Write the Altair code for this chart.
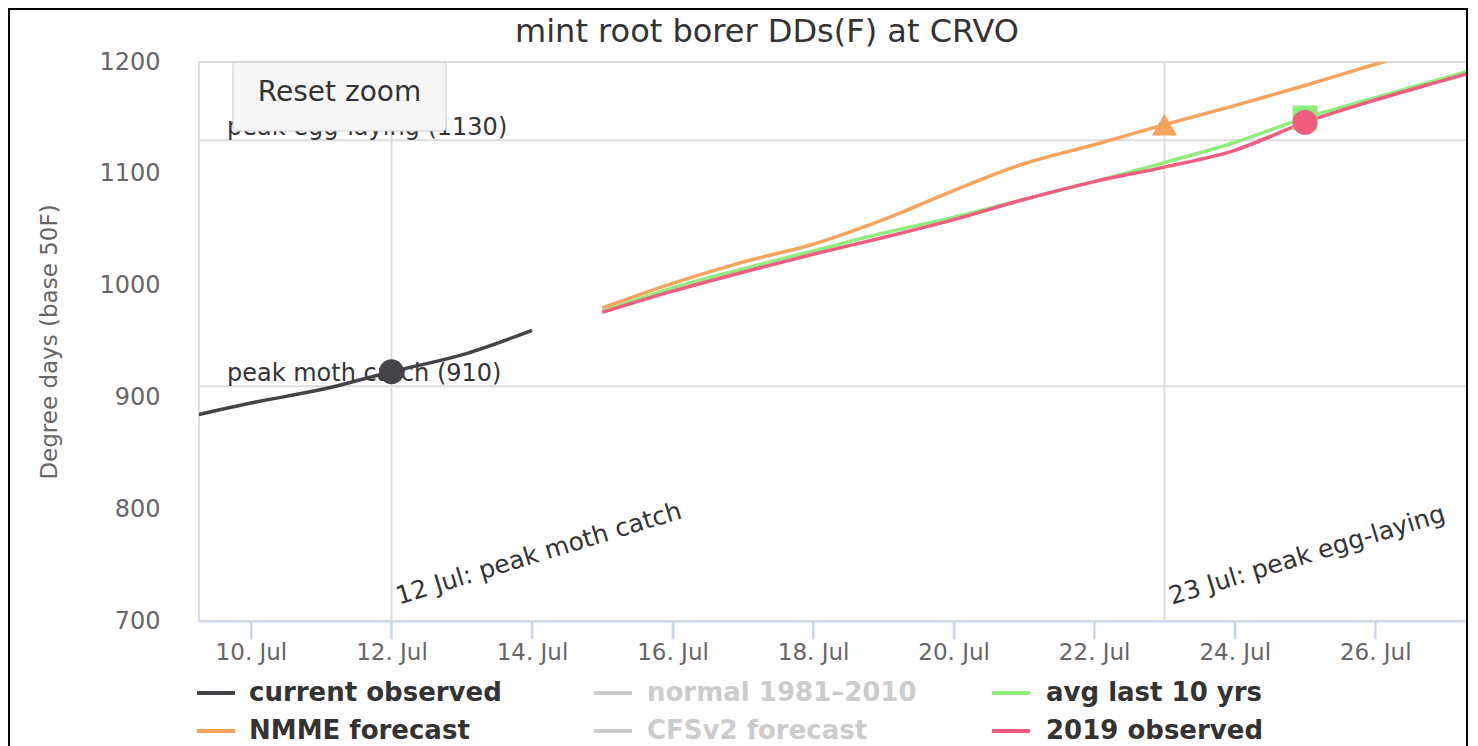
import altair as alt
import pandas as pd

# ---------------- data ----------------
TITLE = "mint root borer DDs(F) at CRVO"
Y_TITLE = "Degree days (base 50F)"

obs_dates = ["2020-07-09", "2020-07-10", "2020-07-11", "2020-07-12", "2020-07-13", "2020-07-14"]
obs_values = [881, 895, 907, 923, 938, 960]

fc_dates = ["2020-07-15", "2020-07-16", "2020-07-17", "2020-07-18", "2020-07-19", "2020-07-20",
            "2020-07-21", "2020-07-22", "2020-07-23", "2020-07-24", "2020-07-25", "2020-07-26",
            "2020-07-27", "2020-07-28"]
nmme_values = [980, 1002, 1021, 1037, 1059, 1085, 1109, 1126, 1144, 1161, 1179, 1198, 1216, 1234]
avg10_values = [977, 998, 1015, 1031, 1047, 1061, 1077, 1093, 1110, 1128, 1150, 1168, 1186, 1204]
y2019_values = [976, 995, 1012, 1028, 1043, 1059, 1077, 1093, 1106, 1121, 1146, 1166, 1184, 1202]

series_names = ["current observed", "normal 1981\u20132010", "avg last 10 yrs",
                "NMME forecast", "CFSv2 forecast", "2019 observed"]
series_colors = ["#434348", "#cccccc", "#90ed7d", "#f7a35c", "#cccccc", "#f15c80"]
series_visible = [True, False, True, True, False, True]

marker_series = ["current observed", "NMME forecast", "avg last 10 yrs", "2019 observed"]
marker_dates = ["2020-07-12", "2020-07-23", "2020-07-25", "2020-07-25"]
marker_values = [923, 1144, 1150, 1146]

hline_values = [910, 1130]
hline_labels = ["peak moth catch (910)", "peak egg-laying (1130)"]
vline_dates = ["2020-07-12", "2020-07-23"]
vline_labels = ["12 Jul: peak moth catch", "23 Jul: peak egg-laying"]

y_ticks = [700, 800, 900, 1000, 1100, 1200]
x_tick_dates = ["2020-07-10", "2020-07-12", "2020-07-14", "2020-07-16", "2020-07-18",
                "2020-07-20", "2020-07-22", "2020-07-24", "2020-07-26"]

# ---------------- styles / layout ----------------
FONT = "DejaVu Sans"
W, H = 1268, 559
TICK_LEN = 18
marker_shapes = {"current observed": "circle", "NMME forecast": "triangle-up",
                 "avg last 10 yrs": "square", "2019 observed": "circle"}

color_scale = alt.Scale(domain=series_names, range=series_colors)


def utc(s):
    y, m, d = (int(v) for v in s.split("-"))
    return alt.DateTime(year=y, month=m, date=d, utc=True)


x_scale = alt.Scale(
    type="utc",
    domain=[alt.DateTime(year=2020, month=7, date=9, hours=6, minutes=16, utc=True),
            alt.DateTime(year=2020, month=7, date=27, hours=7, minutes=20, utc=True)])
x_axis = alt.Axis(
    values=[utc(s) for s in x_tick_dates],
    labelExpr="utcFormat(datum.value, '%-d. %b')", title=None)
X = alt.X("date:T", scale=x_scale, axis=x_axis)

y_scale = alt.Scale(domain=[700, 1200], nice=False, zero=False)
y_axis = alt.Axis(values=y_ticks, format="d", title=Y_TITLE)
Y = alt.Y("value:Q", scale=y_scale, axis=y_axis)

layers = []

# x-axis tick marks
tdf_ticks = pd.DataFrame({"date": x_tick_dates})
layers.append(alt.Chart(tdf_ticks).mark_rule(color="#ccd6eb", strokeWidth=2).encode(
    x=X, y=alt.value(H), y2=alt.value(H + TICK_LEN)))

# plot lines (horizontal / vertical)
hdf = pd.DataFrame({"value": hline_values, "label": hline_labels})
vdf = pd.DataFrame({"date": vline_dates, "label": vline_labels})
layers.append(alt.Chart(hdf).mark_rule(color="#dddddd", strokeWidth=2).encode(y=Y))
layers.append(alt.Chart(vdf).mark_rule(color="#dddddd", strokeWidth=2).encode(x=X))
layers.append(alt.Chart(hdf).mark_text(
    align="left", baseline="alphabetic", dy=-5, font=FONT, fontSize=24, color="#333333"
).encode(x=alt.value(28), y=Y, text="label:N"))
layers.append(alt.Chart(vdf).mark_text(
    align="left", baseline="alphabetic", angle=343, dx=8, font=FONT, fontSize=25, color="#333333"
).encode(x=X, y=alt.value(545), text="label:N"))


# series lines
def line_layer(name, dates, values):
    df = pd.DataFrame({"date": dates, "value": values, "series": name})
    return alt.Chart(df).mark_line(strokeWidth=3.5, interpolate="monotone", clip=True).encode(
        x=X, y=Y, color=alt.Color("series:N", scale=color_scale, legend=None))


layers.append(line_layer("current observed", obs_dates, obs_values))
layers.append(line_layer("avg last 10 yrs", fc_dates, avg10_values))
layers.append(line_layer("NMME forecast", fc_dates, nmme_values))
layers.append(line_layer("2019 observed", fc_dates, y2019_values))

# markers
mdf = pd.DataFrame({"date": marker_dates, "value": marker_values, "series": marker_series})
layers.append(alt.Chart(mdf).mark_point(filled=True, opacity=1, size=620, clip=True).encode(
    x=X, y=Y,
    color=alt.Color("series:N", scale=color_scale, legend=None),
    shape=alt.Shape("series:N", scale=alt.Scale(domain=marker_series,
                                                range=[marker_shapes[s] for s in marker_series]),
                    legend=None)))

one = pd.DataFrame({"label": ["Reset zoom"]})
# reset zoom button
layers.append(alt.Chart(one).mark_rect(fill="#f7f7f7", stroke="#cccccc", strokeWidth=1,
                                       cornerRadius=3).encode(
    x=alt.value(34), x2=alt.value(247), y=alt.value(0), y2=alt.value(69)))
layers.append(alt.Chart(one).mark_text(font=FONT, fontSize=28, color="#333333",
                                       align="center", baseline="middle").encode(
    x=alt.value(140.5), y=alt.value(31), text="label:N"))

# title
tdf = pd.DataFrame({"label": [TITLE]})
layers.append(alt.Chart(tdf).mark_text(font=FONT, fontSize=32, color="#333333",
                                       align="center", baseline="alphabetic").encode(
    x=alt.value(568), y=alt.value(-20), text="label:N"))

# legend (manual, to show hidden series in grey)
LEG_SYM_X = [-2, 395, 793]
LEG_TXT_X = [50, 448, 847]
LEG_ROW_Y = [631, 669]
for i, name in enumerate(series_names):
    r, c = divmod(i, 3)
    ldf = pd.DataFrame({"label": [name]})
    layers.append(alt.Chart(ldf).mark_rule(strokeWidth=4, color=series_colors[i]).encode(
        x=alt.value(LEG_SYM_X[c]), x2=alt.value(LEG_SYM_X[c] + 38), y=alt.value(LEG_ROW_Y[r])))
    layers.append(alt.Chart(ldf).mark_text(
        align="left", baseline="middle", font=FONT, fontSize=26, fontWeight="bold",
        color="#333333" if series_visible[i] else "#cccccc").encode(
        x=alt.value(LEG_TXT_X[c]), y=alt.value(LEG_ROW_Y[r]), text="label:N"))

# outer frame
layers.append(alt.Chart(one).mark_rect(filled=False, stroke="black", strokeWidth=2).encode(
    x=alt.value(-190), x2=alt.value(1268), y=alt.value(-53), y2=alt.value(720)))

chart = alt.layer(*layers).properties(
    width=W, height=H,
    padding={"left": 191, "top": 54, "right": 3, "bottom": 125},
    autosize=alt.AutoSizeParams(type="none"),
    background="white",
).configure_view(stroke="#dddddd", strokeWidth=2
).configure_axisX(
    grid=False, domainColor="#ccd6eb", domainWidth=2, ticks=True, tickColor="#ccd6eb",
    tickWidth=2, tickSize=TICK_LEN, labelFont=FONT, labelFontSize=23, labelColor="#666666",
    labelPadding=2, labelFlush=False, labelOverlap=False
).configure_axisY(
    grid=False, domain=False, ticks=False, labelPadding=39,
    labelFont=FONT, labelFontSize=24, labelColor="#666666",
    titleFont=FONT, titleFontSize=23, titleColor="#666666",
    titleFontWeight="normal", titleX=-150, titleY=H / 2, titleAngle=270,
    titleAlign="center", titleBaseline="middle")

chart.save("out.html", embed_options={"renderer": "svg", "actions": False})
